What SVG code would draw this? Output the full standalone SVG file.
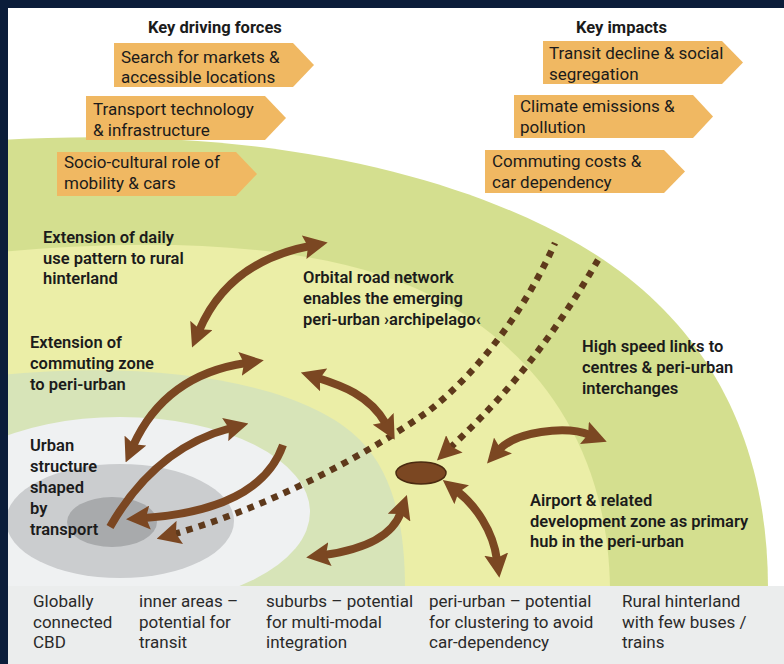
<svg xmlns="http://www.w3.org/2000/svg" width="784" height="664" viewBox="0 0 784 664">
<defs>
<style>
text{font-family:Roboto,"Open Sans","Liberation Sans",sans-serif;fill:#1b1b1b;font-size:17px}
.t{font-weight:700;font-size:16.5px}
.l{font-weight:600;font-size:16.5px}
.b{fill:#f0b862}
.bt{fill:#2a2a2a}
.arr{fill:none;stroke:#7b4722;stroke-width:8;stroke-linecap:butt}
.dot{fill:none;stroke:#5e391b;stroke-width:6.5;stroke-dasharray:6.5 6.5}
</style>
<marker id="ah" viewBox="0 0 24 24" markerWidth="24" markerHeight="24" refX="6" refY="12" markerUnits="userSpaceOnUse" orient="auto-start-reverse">
<path d="M0,0 L24,12 L0,24 L4,12 Z" fill="#7b4722"/>
</marker>
</defs>
<rect x="0" y="0" width="784" height="664" fill="#ffffff"/>
<g id="zones">
<path d="M0,140 C250,125 450,170 580,245 C700,315 768,430 768,588 L0,588 Z" fill="#d4df8f"/>
<path d="M0,252 C150,238 320,240 430,295 C540,350 608,450 610,588 L0,588 Z" fill="#ebeea7"/>
<path d="M0,375 C150,360 300,380 360,440 C395,475 405,530 405,588 L0,588 Z" fill="#d7e4b8"/>
<ellipse cx="120" cy="512" rx="190" ry="95" fill="#eff1f2"/>
<ellipse cx="120" cy="521" rx="114" ry="57" fill="#cbcdcf"/>
<ellipse cx="112" cy="522" rx="45" ry="25" fill="#a8aaac"/>
<rect x="0" y="586" width="784" height="78" fill="#ebeded"/>
</g>
<rect x="0" y="0" width="784" height="8" fill="#0b1d3a"/>
<rect x="0" y="0" width="8" height="664" fill="#0b1d3a"/>
<g id="connectors">
<path class="dot" d="M174,534 C260,510 360,460 430,410 C480,370 525,310 555,243" marker-start="url(#ah)"/>
<path class="dot" d="M450,448 C490,410 540,360 598,260" marker-start="url(#ah)"/>
<path class="arr" d="M199,331 Q228,262 310,246" marker-start="url(#ah)" marker-end="url(#ah)"/>
<path class="arr" d="M133,446 Q165,375 246,363" marker-start="url(#ah)" marker-end="url(#ah)"/>
<path class="arr" d="M110,527 Q155,448 231,428" marker-end="url(#ah)"/>
<path class="arr" d="M283,445 Q260,510 144,518" marker-end="url(#ah)"/>
<path class="arr" d="M318,378 C340,385 370,395 386,424" marker-start="url(#ah)" marker-end="url(#ah)"/>
<path class="arr" d="M499,450 C515,432 565,425 590,435" marker-start="url(#ah)" marker-end="url(#ah)"/>
<path class="arr" d="M457,491 C475,505 493,530 497,560" marker-start="url(#ah)" marker-end="url(#ah)"/>
<path class="arr" d="M324,555 C360,550 392,538 401,512" marker-start="url(#ah)" marker-end="url(#ah)"/>
</g>
<g id="hub"><ellipse cx="421" cy="473" rx="25" ry="11" fill="#7b4722" stroke="#4a2a10" stroke-width="1.5"/></g>
<g id="title-forces"><text class="t" x="148" y="33">Key driving forces</text></g>
<g id="title-impacts"><text class="t" x="576" y="33">Key impacts</text></g>
<g id="force-markets"><polygon class="b" points="114,43 293,43 314,65 293,87 114,87"/><text x="121" y="63">Search for markets &amp;<tspan x="121" dy="20">accessible locations</tspan></text></g>
<g id="force-transport"><polygon class="b" points="86,96 265,96 286,118 265,140 86,140"/><text x="93" y="115">Transport technology<tspan x="93" dy="21">&amp; infrastructure</tspan></text></g>
<g id="force-socio"><polygon class="b" points="57,152 236,152 257,174 236,196 57,196"/><text x="64" y="168">Socio-cultural role of<tspan x="64" dy="21">mobility &amp; cars</tspan></text></g>
<g id="impact-transit"><polygon class="b" points="543,41 722,41 743,62.5 722,84 543,84"/><text x="549" y="59">Transit decline &amp; social<tspan x="549" dy="21">segregation</tspan></text></g>
<g id="impact-climate"><polygon class="b" points="514,95 693,95 713,116.5 693,138 514,138"/><text x="520" y="112">Climate emissions &amp;<tspan x="520" dy="21">pollution</tspan></text></g>
<g id="impact-commuting"><polygon class="b" points="485,150 664,150 685,171.5 664,193 485,193"/><text x="492" y="167">Commuting costs &amp;<tspan x="492" dy="21">car dependency</tspan></text></g>
<g id="label-daily"><text class="l" x="43" y="243">Extension of daily<tspan x="43" dy="21">use pattern to rural</tspan><tspan x="43" dy="20">hinterland</tspan></text></g>
<g id="label-commuting"><text class="l" x="30" y="348">Extension of<tspan x="30" dy="21">commuting zone</tspan><tspan x="30" dy="21">to peri-urban</tspan></text></g>
<g id="label-orbital"><text class="l" x="303" y="283">Orbital road network<tspan x="303" dy="21">enables the emerging</tspan><tspan x="303" dy="21">peri-urban ›archipelago‹</tspan></text></g>
<g id="label-highspeed"><text class="l" x="582" y="352">High speed links to<tspan x="582" dy="21">centres &amp; peri-urban</tspan><tspan x="582" dy="21">interchanges</tspan></text></g>
<g id="label-urban"><text class="l" x="30" y="451">Urban<tspan x="30" dy="21">structure</tspan><tspan x="30" dy="21">shaped</tspan><tspan x="30" dy="21">by</tspan><tspan x="30" dy="21">transport</tspan></text></g>
<g id="label-airport"><text class="l" x="530" y="506">Airport &amp; related<tspan x="530" dy="21">development zone as primary</tspan><tspan x="530" dy="20">hub in the peri-urban</tspan></text></g>
<g id="zone-cbd"><text class="bt" x="33" y="607">Globally<tspan x="33" dy="21">connected</tspan><tspan x="33" dy="20">CBD</tspan></text></g>
<g id="zone-inner"><text class="bt" x="139" y="607">inner areas –<tspan x="139" dy="21">potential for</tspan><tspan x="139" dy="20">transit</tspan></text></g>
<g id="zone-suburbs"><text class="bt" x="266" y="607">suburbs – potential<tspan x="266" dy="21">for multi-modal</tspan><tspan x="266" dy="20">integration</tspan></text></g>
<g id="zone-periurban"><text class="bt" x="429" y="607">peri-urban – potential<tspan x="429" dy="21">for clustering to avoid</tspan><tspan x="429" dy="20">car-dependency</tspan></text></g>
<g id="zone-rural"><text class="bt" x="622" y="607">Rural hinterland<tspan x="622" dy="21">with few buses /</tspan><tspan x="622" dy="20">trains</tspan></text></g>
</svg>
